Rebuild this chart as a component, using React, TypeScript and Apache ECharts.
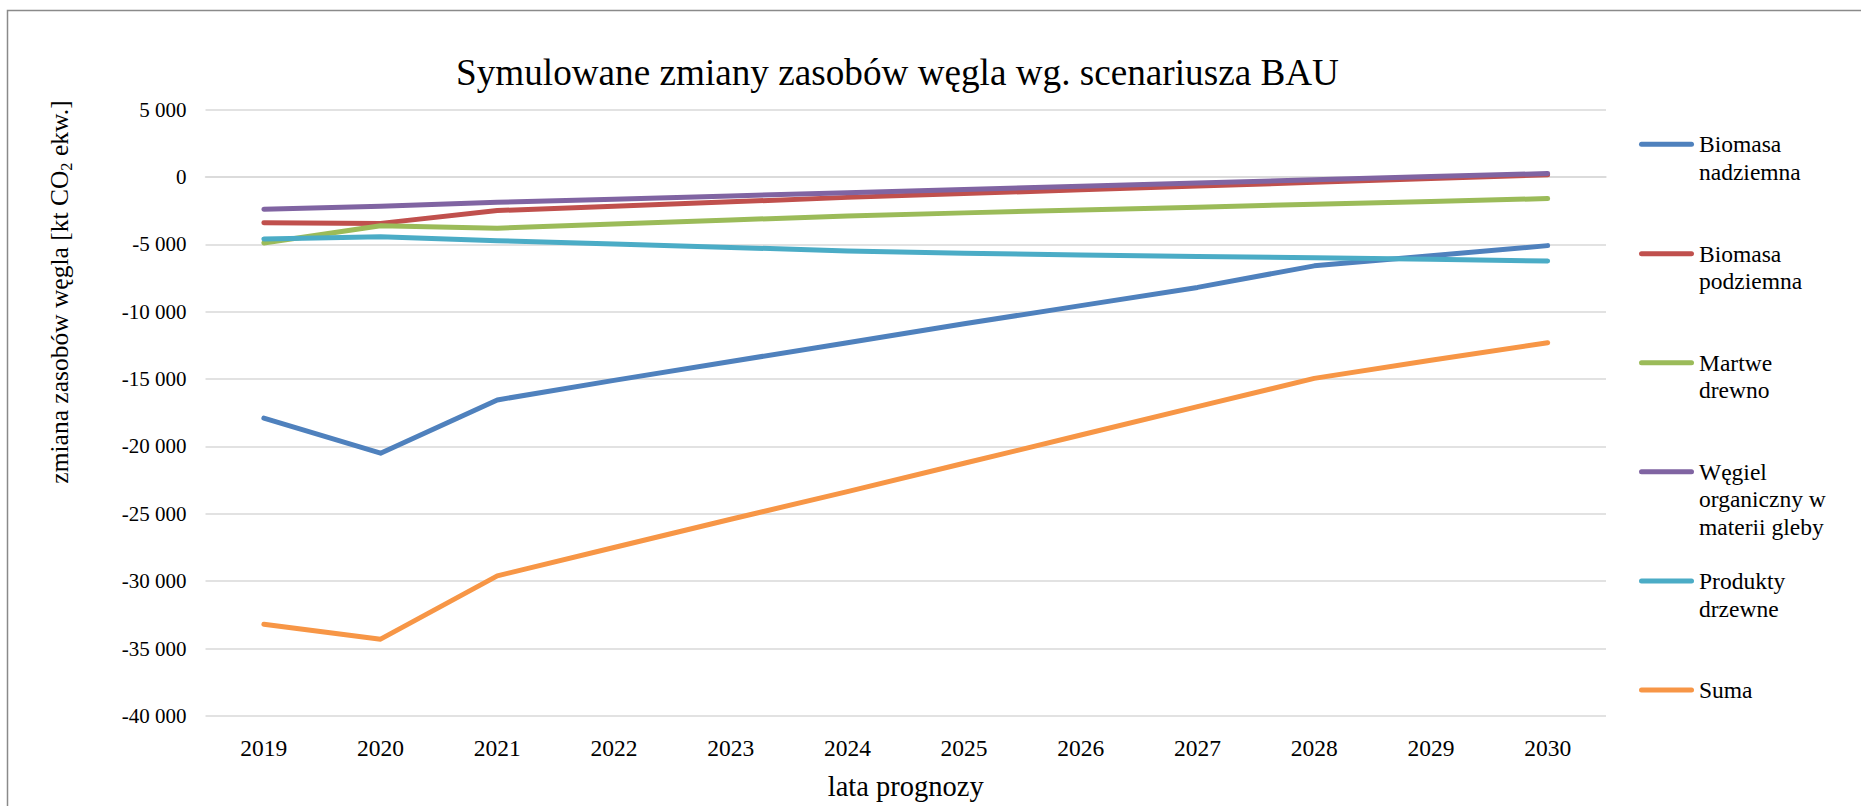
import React, { useEffect, useRef } from "react";
import * as echarts from "echarts";

const years = ["2019", "2020", "2021", "2022", "2023", "2024", "2025", "2026", "2027", "2028", "2029", "2030"];

const biomasaNadziemna = [-17900, -20500, -16550, -15100, -13700, -12300, -10900, -9550, -8200, -6600, -5850, -5100];
const biomasaPodziemna = [-3400, -3450, -2500, -2180, -1850, -1520, -1240, -960, -680, -400, -120, 150];
const martweDrewno = [-4900, -3620, -3810, -3500, -3200, -2900, -2670, -2460, -2250, -2030, -1820, -1610];
const wegielOrganiczny = [-2400, -2180, -1880, -1650, -1420, -1170, -930, -700, -450, -220, 20, 250];
const produktyDrzewne = [-4600, -4450, -4730, -4980, -5230, -5500, -5660, -5790, -5900, -6000, -6120, -6240];
const suma = [-33200, -34300, -29600, -27500, -25400, -23350, -21250, -19150, -17050, -14950, -13600, -12300];

const seriesNames = [
  "Biomasa nadziemna",
  "Biomasa podziemna",
  "Martwe drewno",
  "Węgiel organiczny w materii gleby",
  "Produkty drzewne",
  "Suma",
];
const legendLabels = [
  "Biomasa\nnadziemna",
  "Biomasa\npodziemna",
  "Martwe\ndrewno",
  "Węgiel\norganiczny w\nmaterii gleby",
  "Produkty\ndrzewne",
  "Suma",
];
const seriesData = [biomasaNadziemna, biomasaPodziemna, martweDrewno, wegielOrganiczny, produktyDrzewne, suma];
const colors = ["#4F81BD", "#C0504D", "#9BBB59", "#8064A2", "#4BACC6", "#F79646"];

const yMin = -40000;
const yMax = 5000;
const yStep = 5000;

const titleText = "Symulowane zmiany zasobów węgla wg. scenariusza BAU";
const xName = "lata prognozy";

const FONT = "'Liberation Serif', 'Times New Roman', serif";

function fmt(v: number): string {
  const s = Math.abs(v).toString().replace(/\B(?=(\d{3})+(?!\d))/g, " ");
  return v < 0 ? "-" + s : s;
}

// layout constants
const legendSymY = [144.3, 253.7, 362.7, 471.7, 581, 690];
const LH = 27.7;
const capsule = "path://M2.5,0 H52.5 A2.5,2.5 0 0 1 52.5,5 H2.5 A2.5,2.5 0 0 1 2.5,0 Z";

export default function App() {
  const ref = useRef<HTMLDivElement>(null);
  useEffect(() => {
    if (!ref.current) return;
    const chart = echarts.init(ref.current, undefined, { renderer: "svg" });
    const option: any = {
      animation: false,
      backgroundColor: "#ffffff",
      title: {
        text: titleText,
        left: 456,
        top: 54,
        padding: 0,
        textStyle: { fontFamily: FONT, fontSize: 37.2, fontWeight: "normal", color: "#000" },
      },
      grid: { left: 205.5, right: 255, top: 109.5, bottom: 87, containLabel: false },
      legend: seriesNames.map((name, i) => {
        const n = legendLabels[i].split("\n").length;
        // pad with blank lines above so the first real line sits at the symbol's height
        const label = " \n".repeat(n - 1) + legendLabels[i];
        return {
          orient: "vertical",
          left: 1639,
          top: legendSymY[i] - ((2 * n - 1) * LH) / 2,
          padding: 0,
          itemWidth: 55,
          itemHeight: 5,
          icon: capsule,
          selectedMode: false,
          data: [name],
          formatter: () => label,
          textStyle: {
            fontFamily: FONT,
            fontSize: 23.5,
            lineHeight: LH,
            color: "#000",
          },
        };
      }),
      xAxis: {
        type: "category",
        data: years,
        boundaryGap: true,
        axisLine: { show: true, lineStyle: { color: "#d9d9d9", width: 1.5 } },
        axisTick: { show: false },
        axisLabel: { fontFamily: FONT, fontSize: 23.5, color: "#000", margin: 20 },
        name: xName,
        nameLocation: "middle",
        nameGap: 56,
        nameTextStyle: { fontFamily: FONT, fontSize: 28.5, color: "#000" },
      },
      yAxis: {
        type: "value",
        min: yMin,
        max: yMax,
        interval: yStep,
        axisLine: { show: false },
        axisTick: { show: false },
        axisLabel: { fontFamily: FONT, fontSize: 21, color: "#000", margin: 19, formatter: (v: number) => fmt(v) },
        splitLine: { show: true, lineStyle: { color: "#d9d9d9", width: 1.5 } },
      },
      graphic: [
        {
          type: "rect",
          silent: true,
          z: -10,
          shape: { x: 7.5, y: 10.5, width: 3000, height: 3000 },
          style: { fill: "none", stroke: "#8a8a8a", lineWidth: 1.5 },
        },
        {
          type: "text",
          x: 59.5,
          y: 292,
          rotation: Math.PI / 2,
          style: {
            text: "{a|zmiana zasobów węgla [kt CO}{s|2}{a| ekw.]}",
            align: "center",
            verticalAlign: "middle",
            fill: "#000",
            rich: {
              a: { fontFamily: FONT, fontSize: 25.5, lineHeight: 30, fill: "#000", color: "#000" },
              s: { fontFamily: FONT, fontSize: 16.5, lineHeight: 30, verticalAlign: "bottom", fill: "#000", color: "#000" },
            },
          },
        },
      ],
      series: seriesNames.map((name, i) => ({
        name,
        type: "line",
        data: seriesData[i],
        symbol: "none",
        color: colors[i],
        lineStyle: { width: 5, color: colors[i], cap: "round", join: "round" },
        emphasis: { disabled: true },
      })),
    };
    chart.setOption(option);
    return () => chart.dispose();
  }, []);
  return (
    <div
      ref={ref}
      style={{ position: "fixed", left: 0, top: 0, width: 1861, height: 806, background: "#fff" }}
    />
  );
}
